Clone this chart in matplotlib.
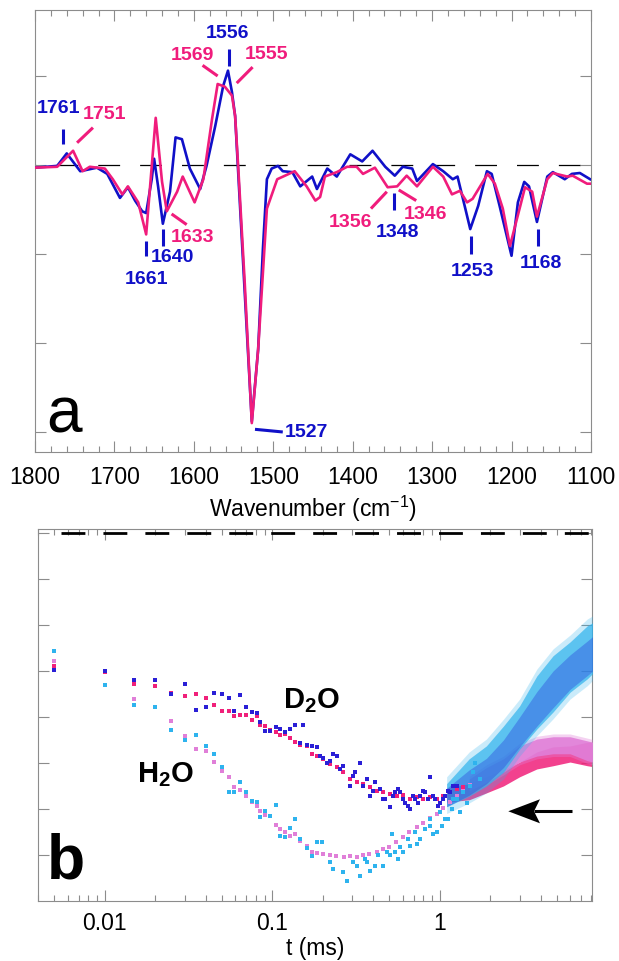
import matplotlib
matplotlib.use('Agg')
import matplotlib.pyplot as plt
from matplotlib.patches import Polygon
from matplotlib.ticker import MultipleLocator, NullFormatter

plt.rcParams['font.family'] = ['Liberation Sans', 'DejaVu Sans']
plt.rcParams['mathtext.fontset'] = 'custom'
plt.rcParams['mathtext.rm'] = 'Liberation Sans'
plt.rcParams['mathtext.bf'] = 'Liberation Sans:bold'

BLUE = '#1010c8'
PINK = '#f01c7c'
D2O_BLUE = '#2a1fd6'
D2O_PINK = '#f0207a'
H2O_CYAN = '#2eb3ee'
H2O_PINK = '#e07fd8'
GRAY = '#8c8c8c'

# ---- panel a: difference spectra (arb. units) ----
blue_wn = [1800, 1772, 1760, 1743, 1722, 1709, 1693, 1683, 1674, 1665,
           1660, 1653, 1650, 1645, 1639, 1630, 1623, 1615, 1605, 1592,
           1584, 1573, 1563, 1557, 1552, 1548, 1538, 1532, 1527, 1519,
           1513, 1508, 1502, 1494, 1488, 1476, 1466, 1451, 1445, 1432,
           1420, 1403, 1388, 1375, 1359, 1347, 1337, 1325, 1319, 1299,
           1286, 1274, 1268, 1259, 1252, 1242, 1231, 1225, 1215, 1200,
           1192, 1184, 1178, 1168, 1155, 1148, 1133, 1124, 1114, 1101]
blue_abs = [-0.03, -0.01, 0.13, -0.07, -0.03, -0.10, -0.37, -0.25, -0.40, -0.52,
            -0.54, -0.16, 0.07, -0.24, -0.66, -0.30, 0.31, 0.29, -0.04, -0.27,
            -0.01, 0.44, 0.89, 1.06, 0.82, 0.55, -1.09, -2.07, -2.88, -2.07,
            -0.94, -0.16, -0.04, -0.01, -0.07, -0.08, -0.24, -0.13, -0.27, -0.04,
            -0.13, 0.12, 0.04, 0.16, -0.02, -0.12, -0.02, -0.04, -0.18, 0.01,
            -0.07, -0.16, -0.13, -0.46, -0.72, -0.46, -0.07, -0.10, -0.46, -1.02,
            -0.42, -0.19, -0.24, -0.64, -0.13, -0.08, -0.16, -0.10, -0.09, -0.16]

pink_wn = [1800, 1772, 1752, 1740, 1731, 1712, 1702, 1690, 1683, 1670,
           1660, 1648, 1640, 1634, 1621, 1614, 1599, 1588, 1577, 1570,
           1561, 1552, 1548, 1544, 1536, 1527, 1519, 1508, 1495, 1473,
           1458, 1447, 1441, 1435, 1420, 1407, 1395, 1387, 1372, 1356,
           1344, 1332, 1319, 1299, 1286, 1275, 1265, 1256, 1249, 1230,
           1221, 1211, 1202, 1189, 1183, 1174, 1168, 1155, 1148, 1130,
           1123, 1105, 1099]
pink_abs = [-0.03, -0.02, 0.16, -0.07, -0.02, -0.04, -0.16, -0.33, -0.24, -0.42,
            -0.78, 0.53, -0.19, -0.52, -0.30, -0.13, -0.42, -0.16, 0.52, 0.91,
            0.88, 0.78, 0.55, -0.04, -1.31, -2.90, -2.07, -0.49, -0.16, -0.07,
            -0.24, -0.40, -0.36, -0.13, -0.08, -0.02, -0.02, -0.10, -0.03, -0.25,
            -0.24, -0.12, -0.24, -0.02, -0.13, -0.33, -0.29, -0.42, -0.38, -0.10,
            -0.21, -0.49, -0.91, -0.46, -0.25, -0.30, -0.58, -0.16, -0.09, -0.13,
            -0.12, -0.21, -0.21]

# band labels: (text, color, text x, text y, line x0, y0, x1, y1, ha)
band_labels = [
    ('1761', BLUE, 1771, 0.65, 1765, 0.40, 1765, 0.24, 'center'),
    ('1751', PINK, 1712, 0.58, 1747, 0.25, 1727, 0.42, 'center'),
    ('1556', BLUE, 1558, 1.49, 1556, 1.30, 1556, 1.11, 'center'),
    ('1569', PINK, 1602, 1.24, 1589, 1.12, 1570, 1.00, 'center'),
    ('1555', PINK, 1509, 1.25, 1546, 0.92, 1526, 1.10, 'center'),
    ('1633', PINK, 1602, -0.80, 1628, -0.55, 1609, -0.67, 'center'),
    ('1640', BLUE, 1627, -1.03, 1639, -0.72, 1639, -0.91, 'center'),
    ('1661', BLUE, 1660, -1.28, 1660, -0.85, 1660, -1.02, 'center'),
    ('1527', BLUE, 1485, -3.00, 1523, -2.97, 1488, -3.00, 'left'),
    ('1356', PINK, 1403, -0.64, 1377, -0.49, 1357, -0.30, 'center'),
    ('1348', BLUE, 1344, -0.75, 1348, -0.31, 1348, -0.51, 'center'),
    ('1346', PINK, 1308, -0.54, 1342, -0.28, 1320, -0.40, 'center'),
    ('1253', BLUE, 1249, -1.18, 1251, -0.80, 1251, -1.00, 'center'),
    ('1168', BLUE, 1163, -1.09, 1167, -0.72, 1167, -0.91, 'center'),
]

# ---- panel b: kinetics, individual points ----
d2o_blue_t = [0.005, 0.01, 0.015, 0.02, 0.025, 0.03, 0.035, 0.040, 0.045, 0.050,
              0.055, 0.059, 0.064, 0.070, 0.076, 0.081, 0.085, 0.091, 0.097, 0.105,
              0.111, 0.119, 0.128, 0.136, 0.147, 0.153, 0.161, 0.172, 0.186,
              0.193, 0.202, 0.212, 0.221, 0.232, 0.243, 0.254, 0.266, 0.291, 0.305,
              0.312, 0.334, 0.350, 0.367, 0.384, 0.402, 0.411, 0.440, 0.461, 0.471,
              0.505, 0.529, 0.541, 0.566, 0.580, 0.607, 0.621, 0.650, 0.665, 0.696,
              0.712, 0.746, 0.763, 0.799, 0.817, 0.856, 0.875, 0.916, 0.937, 0.981,
              1.004, 1.051, 1.076, 1.126, 1.153, 1.206, 1.263]
d2o_blue_v = [-2.98, -3.01, -3.19, -3.20, -3.51, -3.28, -3.84, -3.79, -3.47, -3.49,
              -3.59, -3.86, -3.53, -3.79, -3.90, -3.91, -4.10, -4.30, -4.31, -4.22,
              -4.26, -4.32, -4.26, -4.17, -4.57, -4.17, -4.62, -4.64, -4.66,
              -4.84, -4.90, -4.99, -4.95, -4.80, -4.84, -5.13, -5.06, -5.49, -5.28,
              -5.20, -5.00, -5.49, -5.35, -5.71, -5.60, -5.42, -5.57, -5.78, -5.78,
              -5.96, -5.71, -5.64, -5.57, -5.64, -5.78, -5.86, -5.93, -6.00, -5.71,
              -5.78, -5.86, -5.71, -5.60, -5.64, -5.78, -5.31, -5.71, -5.78, -5.93,
              -5.86, -5.78, -5.71, -5.60, -5.64, -5.49, -5.49]

d2o_pink_t = [0.005, 0.01, 0.015, 0.02, 0.025, 0.03, 0.035, 0.040, 0.045, 0.050,
              0.055, 0.059, 0.064, 0.070, 0.076, 0.081, 0.085, 0.091, 0.097, 0.105,
              0.111, 0.119, 0.128, 0.136, 0.147, 0.161, 0.172, 0.186, 0.202, 0.221,
              0.244, 0.265, 0.291, 0.321, 0.348, 0.384, 0.422, 0.459, 0.505, 0.556,
              0.604, 0.665, 0.733, 0.796, 0.875, 0.964, 1.047, 1.153, 1.270, 1.380]
d2o_pink_v = [-2.90, -3.02, -3.29, -3.33, -3.48, -3.54, -3.51, -3.59, -3.74, -3.86,
              -3.86, -3.97, -3.96, -3.96, -4.06, -3.98, -4.17, -4.20, -4.28, -4.33,
              -4.39, -4.37, -4.46, -4.54, -4.61, -4.64, -4.80, -4.84, -4.91, -5.02,
              -5.09, -5.20, -5.35, -5.41, -5.46, -5.52, -5.60, -5.64, -5.67, -5.71,
              -5.70, -5.78, -5.74, -5.78, -5.74, -5.78, -5.71, -5.63, -5.57, -5.52]

h2o_pink_t = [0.005, 0.01, 0.015, 0.02, 0.025, 0.03, 0.035, 0.040, 0.045, 0.050,
              0.055, 0.059, 0.064, 0.070, 0.076, 0.081, 0.085, 0.091, 0.097, 0.105,
              0.111, 0.119, 0.128, 0.136, 0.147, 0.161, 0.172, 0.186, 0.20, 0.22,
              0.24, 0.27, 0.29, 0.32, 0.35, 0.38, 0.42, 0.46, 0.50, 0.55,
              0.60, 0.66, 0.73, 0.80, 0.88, 0.96, 1.05, 1.15, 1.26, 1.38, 1.52]
h2o_pink_v = [-2.78, -3.30, -3.61, -3.79, -4.09, -4.42, -4.69, -4.75, -4.97, -5.18,
              -5.30, -5.53, -5.59, -5.71, -5.84, -5.94, -6.04, -6.13, -6.15, -6.35,
              -6.43, -6.51, -6.59, -6.54, -6.69, -6.80, -6.94, -6.96, -6.98, -7.00,
              -7.02, -7.04, -7.03, -7.04, -7.00, -6.98, -6.93, -6.88, -6.82, -6.72,
              -6.62, -6.50, -6.40, -6.30, -6.20, -6.10, -5.98, -5.85, -5.72, -5.60, -5.48]

h2o_cyan_t = [0.005, 0.01, 0.015, 0.02, 0.025, 0.03, 0.035, 0.040, 0.045, 0.050,
              0.055, 0.059, 0.064, 0.070, 0.076, 0.081, 0.085, 0.091, 0.097, 0.105,
              0.111, 0.119, 0.128, 0.136, 0.147, 0.161, 0.172, 0.186,
              0.197, 0.221, 0.232, 0.266, 0.278, 0.305, 0.319, 0.334, 0.358, 0.367,
              0.384, 0.411, 0.430, 0.461, 0.483, 0.505, 0.517, 0.541, 0.566, 0.580,
              0.607, 0.650, 0.665, 0.712, 0.729, 0.763, 0.817, 0.875, 0.875, 0.916,
              0.959, 1.004, 1.028, 1.076, 1.126, 1.179, 1.206, 1.263, 1.322, 1.384,
              1.449, 1.517, 1.588, 1.624, 1.740]
h2o_cyan_v = [-2.57, -3.30, -3.73, -3.78, -4.28, -4.49, -4.40, -4.64, -4.80, -5.08,
              -5.64, -5.64, -5.41, -5.64, -5.82, -5.85, -6.18, -6.05, -6.15, -5.91,
              -6.59, -6.62, -6.42, -6.22, -6.65, -6.85, -7.03, -6.71,
              -6.72, -7.16, -7.30, -7.38, -7.56, -7.16, -7.23, -7.45, -7.09, -7.16,
              -7.34, -7.23, -7.01, -7.23, -6.94, -7.01, -6.54, -6.94, -7.09, -6.83,
              -6.94, -6.65, -6.80, -6.51, -6.76, -6.65, -6.43, -6.36, -6.22, -6.54,
              -6.51, -6.07, -6.36, -6.22, -6.22, -6.00, -5.78, -5.78, -6.07, -5.64,
              -5.86, -5.49, -5.20, -4.99, -5.35]

# ---- panel b: dense late-time clouds, read as upper/lower envelopes ----
band_t = [1.1, 1.5, 1.9, 2.4, 3.0, 3.8, 4.75, 6.0, 7.6, 8.2]
cyan_hi = [-5.45, -4.91, -4.63, -4.20, -3.76, -3.11, -2.67, -2.37, -2.02, -1.95]
cyan_lo = [-5.95, -5.72, -5.50, -5.20, -4.70, -4.26, -3.89, -3.46, -3.17, -3.05]
blue_hi = [-5.55, -5.15, -4.90, -4.50, -4.00, -3.45, -3.00, -2.65, -2.35, -2.25]
blue_lo = [-5.95, -5.70, -5.45, -5.10, -4.65, -4.20, -3.80, -3.40, -3.10, -3.00]
dpink_hi = [-5.55, -5.45, -5.30, -5.15, -4.98, -4.76, -4.65, -4.63, -4.55, -4.55]
dpink_lo = [-5.85, -5.80, -5.65, -5.50, -5.30, -5.13, -5.06, -4.98, -5.06, -5.08]
lpink_t = [1.5, 1.9, 2.4, 3.0, 3.8, 4.75, 6.0, 7.6, 8.2]
lpink_hi = [-5.35, -5.10, -4.91, -4.63, -4.48, -4.43, -4.43, -4.52, -4.55]
lpink_lo = [-5.60, -5.42, -5.20, -4.98, -4.85, -4.80, -4.80, -4.95, -4.98]

fig = plt.figure(figsize=(6.19, 9.62), dpi=100)
ax_a = fig.add_axes([0.0565, 0.5291, 0.8982, 0.4595])
ax_b = fig.add_axes([0.0614, 0.0624, 0.8950, 0.3867])

# panel a
ax_a.axhline(0, color='k', lw=0.9, ls=(16.8, (17.5, 16)), zorder=1)
ax_a.plot(blue_wn, blue_abs, color=BLUE, lw=1.9, zorder=3, solid_joinstyle='round')
ax_a.plot(pink_wn, pink_abs, color=PINK, lw=1.9, zorder=4, solid_joinstyle='round')
for txt, c, tx, ty, x0, y0, x1, y1, ha in band_labels:
    ax_a.plot([x0, x1], [y0, y1], color=c, lw=2.2, solid_capstyle='butt', zorder=5)
    ax_a.text(tx, ty, txt, color=c, fontsize=14, fontweight='bold',
              ha=ha, va='center', zorder=6)

ax_a.set_xlim(1800, 1100)
ax_a.set_ylim(-3.225, 1.742)
ax_a.xaxis.set_major_locator(MultipleLocator(100))
ax_a.xaxis.set_minor_locator(MultipleLocator(20))
ax_a.set_yticks([-3, -2, -1, 0, 1])
ax_a.tick_params(labelleft=False)
ax_a.set_xlabel('Wavenumber (cm$^{-1}$)', fontsize=16.5, labelpad=4)
ax_a.text(0.02, 0.047, 'a', transform=ax_a.transAxes, fontsize=46,
          ha='left', va='baseline')

# panel b
ax_b.axhline(0, xmin=0.0415, color='k', lw=2.0, ls=(0, (8.6, 6.5)), zorder=8)
ax_b.fill_between(band_t, dpink_lo, dpink_hi, color=D2O_PINK, alpha=0.85, lw=0, zorder=2)
ax_b.fill_between(lpink_t, [v - 0.06 for v in lpink_lo], [v + 0.06 for v in lpink_hi],
                  color=H2O_PINK, alpha=0.35, lw=0, zorder=3)
ax_b.fill_between(lpink_t, lpink_lo, lpink_hi, color=H2O_PINK, alpha=0.9, lw=0, zorder=3)
# faint outer halo of the scattered cyan points
ax_b.fill_between(band_t, [v - 0.15 for v in cyan_lo], [v + 0.15 for v in cyan_hi],
                  color=H2O_CYAN, alpha=0.25, lw=0, zorder=4)
ax_b.fill_between(band_t, cyan_lo, cyan_hi, color=H2O_CYAN, alpha=0.6, lw=0, zorder=4)
ax_b.fill_between(band_t, blue_lo, blue_hi, color=D2O_BLUE, alpha=0.4, lw=0, zorder=5)
ax_b.fill_between(band_t, cyan_lo, cyan_hi, color=H2O_CYAN, alpha=0.25, lw=0, zorder=5)

ms = 2.4
ax_b.plot(d2o_pink_t, d2o_pink_v, 's', color=D2O_PINK, ms=ms, mew=0, zorder=6)
ax_b.plot(d2o_blue_t, d2o_blue_v, 's', color=D2O_BLUE, ms=ms, mew=0, zorder=6)
ax_b.plot(h2o_pink_t, h2o_pink_v, 's', color=H2O_PINK, ms=ms, mew=0, zorder=6)
ax_b.plot(h2o_cyan_t, h2o_cyan_v, 's', color=H2O_CYAN, ms=ms, mew=0, zorder=6)

ax_b.set_xscale('log')
ax_b.set_xlim(0.004, 8.11)
ax_b.set_ylim(-8, 0.087)
ax_b.set_xticks([0.01, 0.1, 1])
ax_b.set_xticklabels(['0.01', '0.1', '1'])
ax_b.xaxis.set_minor_formatter(NullFormatter())
ax_b.set_yticks(range(-7, 1))
ax_b.tick_params(labelleft=False)
ax_b.set_xlabel('t (ms)', fontsize=16.5, labelpad=2)

ax_b.text(0.4937, 0.5215, r'$\mathbf{D_2O}$', transform=ax_b.transAxes,
          fontsize=21, ha='center', va='baseline')
ax_b.text(0.2292, 0.3226, r'$\mathbf{H_2O}$', transform=ax_b.transAxes,
          fontsize=21, ha='center', va='baseline')
ax_b.text(0.016, 0.064, 'b', transform=ax_b.transAxes, fontsize=45,
          fontweight='bold', ha='left', va='baseline')

# arrow
ax_b.plot([0.8953, 0.9634], [0.2411, 0.2411], transform=ax_b.transAxes,
          color='k', lw=2.2, solid_capstyle='butt', zorder=7)
ax_b.add_patch(Polygon([(0.8489, 0.2411), (0.9061, 0.2734), (0.8953, 0.2411),
                        (0.9061, 0.2088)], closed=True, transform=ax_b.transAxes,
                       color='k', lw=0, zorder=7))

for ax in (ax_a, ax_b):
    for sp in ax.spines.values():
        sp.set_color(GRAY)
        sp.set_linewidth(0.8)
    ax.tick_params(which='both', direction='in', top=True, right=True,
                   color=GRAY, width=0.8, labelsize=16.5)
    ax.tick_params(which='major', length=8)
    ax.tick_params(which='minor', length=4)
ax_a.tick_params(axis='x', pad=9)
ax_b.tick_params(axis='x', pad=7)

fig.savefig('out.png', dpi=100)
